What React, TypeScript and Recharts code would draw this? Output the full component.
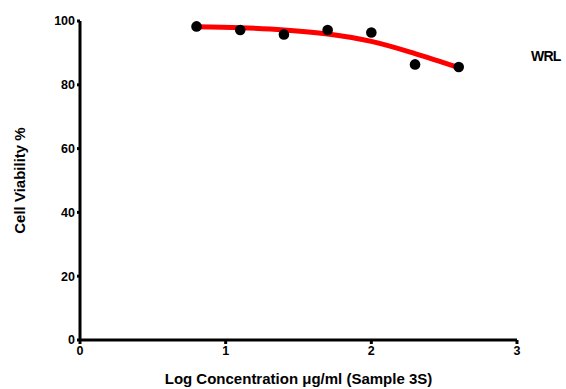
import React from "react";
import { ComposedChart, Line, Scatter, XAxis, YAxis } from "recharts";

const logConc = [0.8, 1.1, 1.4, 1.7, 2.0, 2.3, 2.6];
const viability = [98.3, 97.2, 95.8, 97.2, 96.4, 86.4, 85.6];
const fitX = [0.8, 1.1, 1.4, 1.7, 2.0, 2.3, 2.6];
const fitY = [98.2, 97.9, 97.2, 95.9, 93.6, 89.8, 85.4];
const xTicks = [0, 1, 2, 3];
const yTicks = [0, 20, 40, 60, 80, 100];
const seriesName = "WRL";

const points = logConc.map((x, i) => ({ x, y: viability[i] }));
const fit = fitX.map((x, i) => ({ x, y: fitY[i] }));

const font = "'Liberation Sans', Arial, sans-serif";
const tickStyle = { fill: "#000", fontSize: 12.5, fontWeight: 700, fontFamily: font };

const Dot = (props: any) => <circle cx={props.cx} cy={props.cy} r={5.3} fill="#000" />;

export default function App() {
  return (
    <div style={{ position: "absolute", left: 0, top: 0, width: 566, height: 389, background: "#fff" }}>
      <ComposedChart width={566} height={389} margin={{ top: 21, right: 49, bottom: 4, left: 10 }}>
        <XAxis
          type="number"
          dataKey="x"
          domain={[0, 3]}
          ticks={xTicks}
          allowDataOverflow
          height={45}
          axisLine={{ stroke: "#000", strokeWidth: 3 }}
          tickLine={{ stroke: "#000", strokeWidth: 3 }}
          tickSize={4}
          tick={tickStyle}
          label={{
            value: "Log Concentration μg/ml (Sample 3S)",
            position: "insideBottom",
            offset: 1,
            style: { fill: "#000", fontSize: 15, fontWeight: 700, fontFamily: font },
          }}
        />
        <YAxis
          type="number"
          dataKey="y"
          domain={[0, 100]}
          ticks={yTicks}
          width={70}
          axisLine={{ stroke: "#000", strokeWidth: 3 }}
          tickLine={{ stroke: "#000", strokeWidth: 3 }}
          tickSize={3}
          tick={tickStyle}
          label={{
            value: "Cell Viability %",
            angle: -90,
            position: "insideLeft",
            offset: 10,
            style: { textAnchor: "middle", fill: "#000", fontSize: 15, fontWeight: 700, fontFamily: font },
          }}
        />
        <Line
          data={fit}
          dataKey="y"
          type="monotone"
          stroke="#ff0000"
          strokeWidth={5}
          dot={false}
          activeDot={false}
          isAnimationActive={false}
          legendType="none"
        />
        <Scatter data={points} dataKey="y" fill="#000" shape={Dot} isAnimationActive={false} name={seriesName} />
      </ComposedChart>
      <div
        style={{
          position: "absolute",
          left: 531,
          top: 48,
          fontFamily: font,
          fontSize: 14,
          fontWeight: 700,
          color: "#000",
          letterSpacing: -0.8,
        }}
      >
        {seriesName}
      </div>
    </div>
  );
}
